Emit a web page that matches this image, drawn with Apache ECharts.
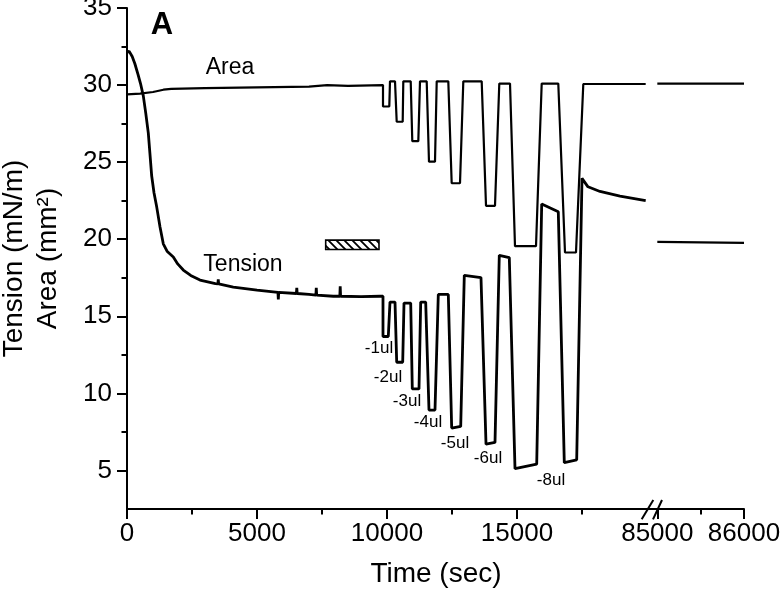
<!DOCTYPE html>
<html><head><meta charset="utf-8">
<script src="https://cdn.jsdelivr.net/npm/echarts@6/dist/echarts.min.js"></script>
<style>html,body{margin:0;padding:0;background:#fff}#c{width:780px;height:593px}</style>
</head><body><div id="c"></div>
<script>
// ---- data ----
const tensionTime = [0,80,200,300,423,520,627,720,819,880,950,1040,1142,1270,1396,1550,1781,1950,2165,2450,2808,3400,3495,3510,3525,4088,5000,5805,5820,5835,6515,6530,6545,7000,7265,7280,7295,7935,8185,8200,8215,9000,9731,9846,
  9846,10050,10115,10308,10373,10604,10654,10912,10973,11231,11296,11488,11615,11846,11973,12358,12488,12835,12973,13615,13808,14154,14319,14704,14923,15758,15950,16588,16819,17296,17500,17730,18192,18962,19950];
const tensionValue = [32.1,32.2,31.85,31.4,30.7,30.1,29.3,28.2,26.9,25.6,24.1,23.0,22.1,20.8,19.7,19.2,18.85,18.4,18.0,17.65,17.35,17.12,17.1,17.4,17.1,16.9,16.7,16.55,16.1,16.55,16.48,16.85,16.48,16.42,16.38,16.85,16.38,16.3,16.3,16.95,16.3,16.28,16.3,16.3,
  13.69,13.69,15.92,15.92,12.02,12.02,15.86,15.86,10.29,10.29,15.92,15.92,8.92,8.92,16.42,16.42,7.75,7.86,17.66,17.51,6.71,6.82,18.96,18.81,5.12,5.41,22.28,21.78,5.51,5.69,23.95,23.4,23.1,22.8,22.5];
const areaTime = [0,500,1000,1400,1700,3000,5000,7000,7700,8500,9846,
  9846,10088,10115,10308,10373,10604,10627,10912,10973,11204,11269,11527,11615,11846,11912,12358,12488,12808,12935,13642,13808,14154,14319,14731,14923,15731,15950,16588,16846,17269,17550,19950];
const areaValue = [29.4,29.45,29.55,29.7,29.75,29.8,29.85,29.9,30.0,29.95,30.0,
  28.61,28.61,30.24,30.24,27.62,27.62,30.24,30.24,26.36,26.36,30.24,30.24,25.03,25.03,30.24,30.24,23.63,23.63,30.24,30.24,22.17,22.17,30.1,30.1,19.55,19.55,30.1,30.1,19.14,19.14,30.07,30.07];
const lateTime = [85000, 86000];
const lateTension = [19.83, 19.77];
const lateArea = [30.1, 30.1];

const yMajorTicks = [5,10,15,20,25,30,35];
const yMinorTicks = [7.5,12.5,17.5,22.5,27.5,32.5];
const xMajorTicks = [0,5000,10000,15000];
const xMinorTicks = [2500,7500,12500,17500];
const xLateMajorTicks = [85000,86000];
const xLateMinorTicks = [85500];

const doseLabels = ['-1ul','-2ul','-3ul','-4ul','-5ul','-6ul','-8ul'];
const doseTime = [9692,10038,10769,11577,12615,13885,16308];
const doseY = [12.91,11.02,9.46,8.1,6.73,5.76,4.39];

const curveLabels = ['Area','Tension'];
const curveTime = [3962,4462];
const curveY = [31.13,18.38];

const hatchTime = [7642, 9692];
const hatchY = [19.94, 19.33];

// ---- build ----
const FONT = "'Liberation Sans', Arial, Helvetica, sans-serif";
const zip = (a, b) => a.map((v, i) => [v, b[i]]);
const plain = v => String(v);

const pc = document.createElement('canvas');
pc.width = 8; pc.height = 8;
const g = pc.getContext('2d');
g.fillStyle = '#fff'; g.fillRect(0, 0, 8, 8);
g.strokeStyle = '#000'; g.lineWidth = 1.8;
g.beginPath();
g.moveTo(-1, -1); g.lineTo(9, 9);
g.moveTo(-1, 7); g.lineTo(1, 9);
g.moveTo(7, -1); g.lineTo(9, 1);
g.stroke();

const axisLine = { show: true, lineStyle: { color: '#000', width: 2 } };
const tickStyle = { color: '#000', width: 2 };
const labelStyle = { color: '#000', fontSize: 26, fontFamily: FONT, formatter: plain };

const chart = echarts.init(document.getElementById('c'), null, { renderer: 'canvas' });
chart.setOption({
  animation: false,
  backgroundColor: '#fff',
  grid: [
    { left: 127, top: 8, width: 520, height: 501, outerBoundsMode: 'none', containLabel: false },
    { left: 647, top: 8, width: 97, height: 501, outerBoundsMode: 'none', containLabel: false }
  ],
  xAxis: [
    { gridIndex: 0, type: 'value', position: 'bottom', min: 0, max: 20000,
      axisLine: axisLine,
      axisTick: { show: true, customValues: xMajorTicks, length: 10, lineStyle: tickStyle },
      axisLabel: Object.assign({ customValues: xMajorTicks, margin: 12 }, labelStyle),
      splitLine: { show: false } },
    { gridIndex: 0, type: 'value', position: 'bottom', min: 0, max: 20000,
      axisLine: { show: false },
      axisTick: { show: true, customValues: xMinorTicks, length: 5.5, lineStyle: tickStyle },
      axisLabel: { show: false }, splitLine: { show: false } },
    { gridIndex: 1, type: 'value', position: 'bottom', min: 84881, max: 86000,
      axisLine: axisLine,
      axisTick: { show: true, customValues: xLateMajorTicks, length: 10, lineStyle: tickStyle },
      axisLabel: Object.assign({ customValues: xLateMajorTicks, margin: 12 }, labelStyle),
      splitLine: { show: false } },
    { gridIndex: 1, type: 'value', position: 'bottom', min: 84881, max: 86000,
      axisLine: { show: false },
      axisTick: { show: true, customValues: xLateMinorTicks, length: 5.5, lineStyle: tickStyle },
      axisLabel: { show: false }, splitLine: { show: false } }
  ],
  yAxis: [
    { gridIndex: 0, type: 'value', position: 'left', min: 2.5, max: 35,
      axisLine: axisLine,
      axisTick: { show: true, customValues: yMajorTicks, length: 10, lineStyle: tickStyle },
      axisLabel: Object.assign({ customValues: yMajorTicks, margin: 15 }, labelStyle),
      splitLine: { show: false },
      name: 'Tension (mN/m)\nArea (mm²)', nameLocation: 'middle', nameGap: 62,
      nameTextStyle: { color: '#000', fontSize: 28, lineHeight: 34, fontFamily: FONT } },
    { gridIndex: 0, type: 'value', position: 'left', min: 2.5, max: 35,
      axisLine: { show: false },
      axisTick: { show: true, customValues: yMinorTicks, length: 5.5, lineStyle: tickStyle },
      axisLabel: { show: false }, splitLine: { show: false } },
    { gridIndex: 1, type: 'value', min: 2.5, max: 35, show: false }
  ],
  series: [
    { type: 'line', name: 'Area', xAxisIndex: 0, yAxisIndex: 0, data: zip(areaTime, areaValue),
      symbol: 'none', lineStyle: { color: '#000', width: 2.2 }, z: 3 },
    { type: 'line', name: 'Tension', xAxisIndex: 0, yAxisIndex: 0, data: zip(tensionTime, tensionValue),
      symbol: 'none', lineStyle: { color: '#000', width: 2.8 }, z: 3,
      markArea: { silent: true,
        itemStyle: { color: { image: pc, repeat: 'repeat' }, borderColor: '#000', borderWidth: 1.6 },
        data: [[{ coord: [hatchTime[0], hatchY[0]] }, { coord: [hatchTime[1], hatchY[1]] }]] } },
    { type: 'line', name: 'Area late', xAxisIndex: 2, yAxisIndex: 2, data: zip(lateTime, lateArea),
      symbol: 'none', lineStyle: { color: '#000', width: 2.2 } },
    { type: 'line', name: 'Tension late', xAxisIndex: 2, yAxisIndex: 2, data: zip(lateTime, lateTension),
      symbol: 'none', lineStyle: { color: '#000', width: 2.2 } },
    { type: 'scatter', xAxisIndex: 0, yAxisIndex: 0, symbolSize: 0, silent: true,
      itemStyle: { opacity: 1, color: '#000' },
      data: doseLabels.map((n, i) => ({ name: n, value: [doseTime[i], doseY[i]] })),
      label: { show: true, position: 'inside', formatter: '{b}', color: '#000', opacity: 1, fontSize: 17, fontFamily: FONT } },
    { type: 'scatter', xAxisIndex: 0, yAxisIndex: 0, symbolSize: 0, silent: true,
      itemStyle: { opacity: 1, color: '#000' },
      data: curveLabels.map((n, i) => ({ name: n, value: [curveTime[i], curveY[i]] })),
      label: { show: true, position: 'inside', formatter: '{b}', color: '#000', opacity: 1, fontSize: 23, fontFamily: FONT } }
  ],
  graphic: [
    { type: 'text', x: 162, y: 25, silent: true,
      style: { text: 'A', fontSize: 31, fontWeight: 'bold', fontFamily: FONT, fill: '#000', align: 'center', verticalAlign: 'middle' } },
    { type: 'text', x: 436, y: 574, silent: true,
      style: { text: 'Time (sec)', fontSize: 28, fontFamily: FONT, fill: '#000', align: 'center', verticalAlign: 'middle' } },
    { type: 'line', silent: true, shape: { x1: 641.7, y1: 519.3, x2: 653.3, y2: 500 }, style: { stroke: '#000', lineWidth: 2 } },
    { type: 'line', silent: true, shape: { x1: 653, y1: 519.3, x2: 662, y2: 500 }, style: { stroke: '#000', lineWidth: 2 } }
  ]
});
</script>
</body></html>
